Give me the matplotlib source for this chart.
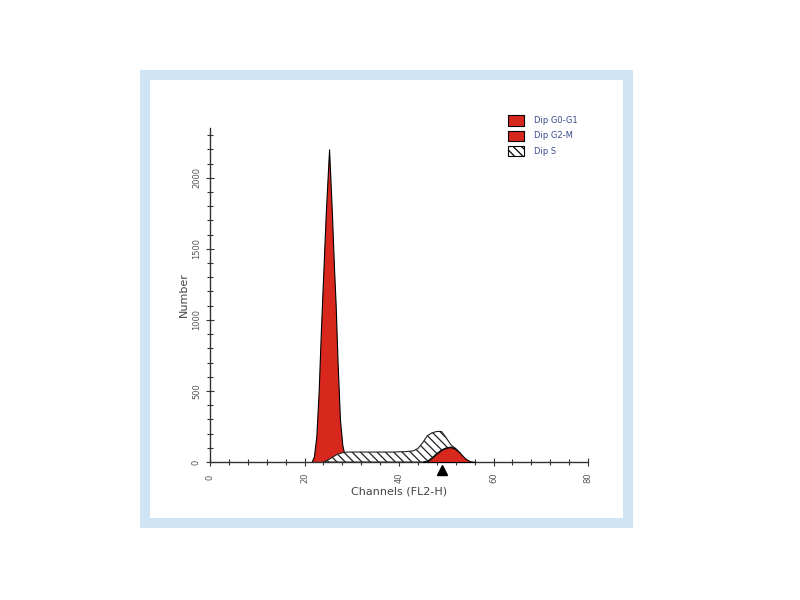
import matplotlib
matplotlib.use("Agg")
import matplotlib.pyplot as plt
import numpy as np
from matplotlib.patches import Patch, Rectangle

# G0-G1 peak (channel, count)
G1_CH = [21.5, 22, 22.5, 23, 23.5, 24, 24.5, 25.2, 25.8, 26.2, 26.6, 27, 27.5, 28, 28.6, 29.2]
G1_N = [0, 40, 180, 500, 950, 1350, 1750, 2200, 1750, 1400, 1100, 700, 300, 120, 30, 0]

# S phase (stacked on G2-M)
S_CH = list(range(24, 54))
S_N = [0, 15, 35, 55, 65, 70, 70, 70, 70, 70, 70, 70, 70, 70, 70, 70,
       72, 72, 75, 78, 95, 135, 180, 175, 155, 130, 70, 15, 5, 0]

# G2-M peak
G2_CH = list(range(45, 57))
G2_N = [0, 5, 30, 60, 85, 100, 105, 90, 60, 25, 5, 0]

MARKER_CH = 49
LEGEND_LABELS = ["Dip G0-G1", "Dip G2-M", "Dip S"]

RED = "#d8281e"
TEXT = "#555555"
HATCH = "\\\\\\\\"

plt.rcParams["hatch.linewidth"] = 0.9
fig = plt.figure(figsize=(8, 6), dpi=100)
fig.patch.set_facecolor("white")

# light blue frame
fig.add_artist(Rectangle((140 / 800, 1 - 528 / 600), 493 / 800, 458 / 600,
                         transform=fig.transFigure, facecolor="#cfe5f6",
                         edgecolor="none", zorder=-2))
fig.add_artist(Rectangle((150 / 800, 1 - 518 / 600), 473 / 800, 438 / 600,
                         transform=fig.transFigure, facecolor="white",
                         edgecolor="none", zorder=-1))

ax = fig.add_axes([210 / 800, 1 - 462 / 600, 378 / 800, 334 / 600])
ax.set_zorder(2)
ax.set_facecolor("none")

s_ch = np.array(S_CH, dtype=float)
g2_on_s = np.interp(s_ch, G2_CH, G2_N, left=0, right=0)
s_top = g2_on_s + np.array(S_N)

ax.fill_between(G1_CH, 0, G1_N, facecolor=RED, edgecolor="black", linewidth=0.8, zorder=2)
ax.fill_between(s_ch, g2_on_s, s_top, facecolor="white", edgecolor="#222222",
                hatch=HATCH, linewidth=0.8, zorder=3)
ax.fill_between(G2_CH, 0, G2_N, facecolor=RED, edgecolor="black", linewidth=0.8, zorder=4)

ax.plot([MARKER_CH], [-55], marker="^", color="black", markersize=7,
        clip_on=False, zorder=6)

ax.set_xlim(0, 80)
ax.set_ylim(0, 2350)
ax.set_xticks([0, 20, 40, 60, 80])
ax.set_xticks(np.arange(0, 81, 4), minor=True)
ax.set_yticks([0, 500, 1000, 1500, 2000])
ax.set_yticks(np.arange(0, 2350, 100), minor=True)
ax.tick_params(axis="both", which="both", direction="inout", colors="#333333",
               labelcolor=TEXT, labelsize=6, width=0.8)
ax.tick_params(axis="both", which="major", length=6)
ax.tick_params(axis="both", which="minor", length=4)
ax.tick_params(axis="x", which="major", pad=8)
for lab in ax.get_xticklabels() + ax.get_yticklabels():
    lab.set_rotation(90)
    lab.set_va("center")

for side in ("top", "right"):
    ax.spines[side].set_visible(False)
for side in ("left", "bottom"):
    ax.spines[side].set_linewidth(1.0)
    ax.spines[side].set_color("#333333")

ax.set_xlabel("Channels (FL2-H)", fontsize=8, color="#444444", labelpad=3)
ax.set_ylabel("Number", fontsize=8, color="#444444", labelpad=2)

handles = [
    Patch(facecolor=RED, edgecolor="black", linewidth=0.8),
    Patch(facecolor=RED, edgecolor="black", linewidth=0.8),
    Patch(facecolor="white", edgecolor="black", hatch=HATCH, linewidth=0.8),
]
fig.legend(handles, LEGEND_LABELS, loc="upper left",
           bbox_to_anchor=(500 / 800, 1 - 108 / 600), frameon=False,
           fontsize=6, labelcolor="#3b4a8c", handlelength=2.0,
           handleheight=1.5, labelspacing=0.6, handletextpad=1.2)

fig.savefig("out.png", dpi=100)
